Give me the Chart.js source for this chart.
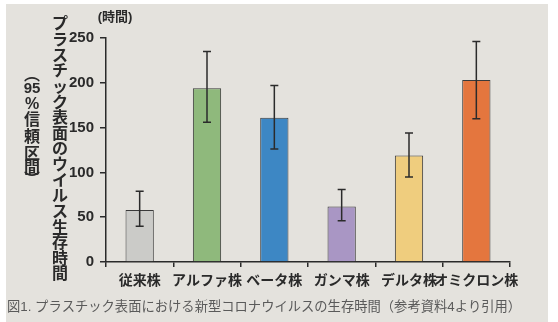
<!DOCTYPE html>
<html>
<head>
<meta charset="utf-8">
<script src="https://cdn.jsdelivr.net/npm/chart.js@4/dist/chart.umd.min.js"></script>
<style>
  html, body { margin: 0; padding: 0; background: #fff; }
  #wrap { position: relative; width: 558px; height: 322px; }
</style>
</head>
<body>
<div id="wrap"><canvas id="chart" width="558" height="322"></canvas></div>
<script>
// values (hours on plastic, 95% CI)
const strains = ['従来株', 'アルファ株', 'ベータ株', 'ガンマ株', 'デルタ株', 'オミクロン株'];
const hours = [58, 194, 161, 62, 119, 203];
const ciLow = [40, 156, 126, 46, 95, 160];
const ciHigh = [79, 235, 197, 81, 144, 246];
const yTicks = [0, 50, 100, 150, 200, 250];
const barColors = ['#cbcbc8', '#8fb97c', '#3d87c4', '#a996c4', '#efcd7e', '#e4763e'];

const yTitle = 'プラスチック表面のウイルス生存時間';
const yTitle2 = ['︵', '95', '%', '信', '頼', '区', '間', '︶'];
const unitLabel = '(時間)';
const caption = '図1. プラスチック表面における新型コロナウイルスの生存時間（参考資料4より引用）';

const FONT = "'Liberation Sans', 'Noto Sans CJK JP', sans-serif";
const INK = '#2a2a2a';

const paper = {
  id: 'paper',
  beforeDraw(chart) {
    const ctx = chart.ctx;
    ctx.save();
    ctx.fillStyle = '#fff';
    ctx.fillRect(0, 0, chart.width, chart.height);
    ctx.fillStyle = '#e4e2dd';
    ctx.fillRect(6, 4, 542, 318);
    ctx.restore();
  }
};

const errorBars = {
  id: 'errorBars',
  afterDatasetsDraw(chart) {
    const ctx = chart.ctx;
    const y = chart.scales.y;
    const meta = chart.getDatasetMeta(0);
    ctx.save();
    ctx.strokeStyle = '#2b2b2b';
    ctx.lineWidth = 1.5;
    meta.data.forEach((bar, i) => {
      const top = y.getPixelForValue(ciHigh[i]);
      const bot = y.getPixelForValue(ciLow[i]);
      ctx.beginPath();
      ctx.moveTo(bar.x, top);
      ctx.lineTo(bar.x, bot);
      ctx.moveTo(bar.x - 4, top);
      ctx.lineTo(bar.x + 4, top);
      ctx.moveTo(bar.x - 4, bot);
      ctx.lineTo(bar.x + 4, bot);
      ctx.stroke();
    });
    ctx.restore();
  }
};

const texts = {
  id: 'texts',
  afterDraw(chart) {
    const ctx = chart.ctx;
    ctx.save();
    ctx.fillStyle = INK;
    ctx.textAlign = 'center';
    ctx.textBaseline = 'middle';
    ctx.font = 'bold 16px ' + FONT;
    const step = (275 - 25) / (yTitle.length - 1);
    [...yTitle].forEach((ch, i) => ctx.fillText(ch, 60, 25 + i * step));
    const pos = [76, 89, 105, 121, 138, 155, 169, 181];
    yTitle2.forEach((ch, i) => {
      ctx.font = 'bold ' + (ch === '95' ? 15 : 16) + 'px ' + FONT;
      ctx.fillText(ch, 32, pos[i]);
    });
    ctx.font = 'bold 13px ' + FONT;
    ctx.fillText(unitLabel, 115, 17);
    ctx.fillStyle = '#5a5a5a';
    ctx.textAlign = 'left';
    ctx.font = '13.3px ' + FONT;
    ctx.fillText(caption, 7, 307);
    ctx.restore();
  }
};

new Chart(document.getElementById('chart'), {
  type: 'bar',
  data: {
    labels: strains,
    datasets: [{
      data: hours,
      backgroundColor: barColors,
      borderColor: '#3a3a3a',
      borderWidth: 1,
      barPercentage: 0.42,
      categoryPercentage: 1
    }]
  },
  options: {
    responsive: false,
    animation: false,
    layout: { padding: { left: 0, top: 38, right: 48, bottom: 0 } },
    plugins: { legend: { display: false }, tooltip: { enabled: false } },
    scales: {
      x: {
        afterFit(scale) { scale.height = 60; },
        border: { color: INK, width: 1.5 },
        grid: { offset: true, drawOnChartArea: false, color: INK, lineWidth: 1.5, tickLength: 5 },
        ticks: {
          color: INK, padding: 6, autoSkip: false, maxRotation: 0, minRotation: 0,
          font: { family: FONT, size: 14, weight: 'bold' }
        }
      },
      y: {
        min: 0,
        max: 250,
        afterFit(scale) { scale.width = 106; },
        afterBuildTicks(scale) { scale.ticks = yTicks.map(v => ({ value: v })); },
        border: { color: INK, width: 1.5 },
        grid: { drawOnChartArea: false, color: INK, lineWidth: 1.5, tickLength: 6 },
        ticks: { color: INK, padding: 6, font: { family: FONT, size: 15, weight: 'bold' } }
      }
    }
  },
  plugins: [paper, errorBars, texts]
});
</script>
</body>
</html>
